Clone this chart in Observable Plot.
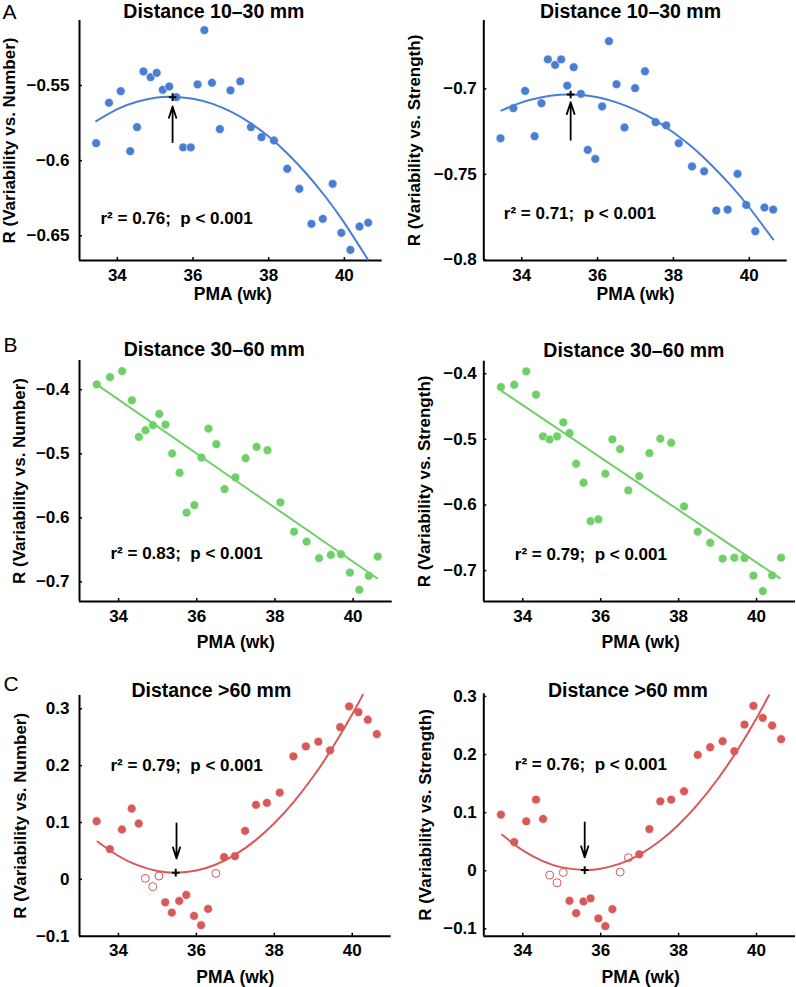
<!DOCTYPE html>
<html><head><meta charset="utf-8">
<script src="https://cdn.jsdelivr.net/npm/d3@7"></script>
<script src="https://cdn.jsdelivr.net/npm/@observablehq/plot@0.6"></script>
<style>
body{margin:0;background:#fff;}
#fig{position:relative;width:796px;height:987px;overflow:hidden;background:#fff;}
#fig svg{position:absolute;overflow:visible;}
</style></head><body><div id="fig"></div>
<script>
// Shared PMA (wk) of each subject
const pma = [33.44, 33.78, 34.09, 34.34, 34.52, 34.69, 34.88, 35.04, 35.2, 35.37, 35.56, 35.74, 35.94, 36.12, 36.3, 36.5, 36.71, 36.99, 37.25, 37.53, 37.81, 38.14, 38.49, 38.81, 39.13, 39.43, 39.69, 39.92, 40.16, 40.4, 40.63];
const xTicks = [34, 36, 38, 40];

// Panel A: distance 10-30 mm
const rA_num = [-0.5884, -0.5615, -0.5538, -0.5937, -0.5777, -0.5407, -0.5445, -0.5416, -0.5529, -0.5507, -0.5578, -0.5912, -0.5912, -0.5493, -0.5132, -0.5482, -0.5790, -0.5533, -0.5473, -0.5777, -0.5844, -0.5866, -0.6054, -0.6187, -0.6420, -0.6387, -0.6154, -0.6480, -0.6593, -0.6438, -0.6413];
const rA_str = [-0.7289, -0.7113, -0.7012, -0.7277, -0.7084, -0.6828, -0.6860, -0.6828, -0.6981, -0.6873, -0.7029, -0.7357, -0.7410, -0.7103, -0.6721, -0.6973, -0.7226, -0.6996, -0.6897, -0.7195, -0.7213, -0.7318, -0.7454, -0.7482, -0.7712, -0.7706, -0.7497, -0.7679, -0.7833, -0.7694, -0.7706];
const fitA_num_x = [33.44, 34, 34.5, 35, 35.43, 36, 36.5, 37, 37.5, 38, 38.5, 39, 39.5, 40, 40.62];
const fitA_num_y = [-0.5737, -0.5657, -0.5610, -0.5582, -0.5575, -0.5588, -0.5621, -0.5674, -0.5747, -0.5840, -0.5954, -0.6087, -0.6240, -0.6414, -0.6657];
const fitA_str_x = [33.46, 34, 34.5, 35, 35.25, 35.5, 36, 36.5, 37, 37.5, 38, 38.5, 39, 39.5, 40, 40.63];
const fitA_str_y = [-0.7127, -0.7079, -0.7050, -0.7035, -0.7033, -0.7035, -0.7049, -0.7079, -0.7123, -0.7181, -0.7255, -0.7342, -0.7445, -0.7562, -0.7694, -0.7881];
const yTicksA_num = [-0.65, -0.6, -0.55];
const yTicksA_str = [-0.8, -0.75, -0.7];

// Panel B: distance 30-60 mm
const rB_num = [-0.3917, -0.3803, -0.3709, -0.4166, -0.4737, -0.4633, -0.4555, -0.4379, -0.4545, -0.4996, -0.5297, -0.5920, -0.5801, -0.5059, -0.4607, -0.4851, -0.5552, -0.5370, -0.5069, -0.4893, -0.4945, -0.5759, -0.6216, -0.6372, -0.6631, -0.6579, -0.6569, -0.6855, -0.7124, -0.6906, -0.6605];
const rB_str = [-0.4203, -0.4168, -0.3964, -0.4320, -0.4955, -0.5001, -0.4955, -0.4742, -0.4904, -0.5372, -0.5661, -0.6245, -0.6220, -0.5524, -0.5001, -0.5148, -0.5778, -0.5560, -0.5209, -0.4991, -0.5052, -0.6022, -0.6408, -0.6576, -0.6819, -0.6804, -0.6809, -0.7078, -0.7312, -0.7073, -0.6804];
const fitB_num_x = [33.51, 40.62];
const fitB_num_y = [-0.3948, -0.6948];
const fitB_str_x = [33.47, 40.60];
const fitB_str_y = [-0.4268, -0.7115];
const yTicksB = [-0.7, -0.6, -0.5, -0.4];

// Panel C: distance > 60 mm
const rC_num = [0.1023, 0.0532, 0.0877, 0.1246, 0.0982, 0.0018, -0.0129, 0.0058, -0.0404, -0.0585, -0.0380, -0.0275, -0.0643, -0.0807, -0.0520, 0.0105, 0.0392, 0.0409, 0.0854, 0.1310, 0.1345, 0.1526, 0.2164, 0.2339, 0.2421, 0.2269, 0.2678, 0.3041, 0.2942, 0.2807, 0.2556];
const rC_str = [0.0966, 0.0494, 0.0851, 0.1224, 0.0891, -0.0075, -0.0207, -0.0029, -0.0517, -0.0730, -0.0529, -0.0477, -0.0822, -0.0954, -0.0661, -0.0023, 0.0224, 0.0282, 0.0718, 0.1195, 0.1224, 0.1368, 0.1994, 0.2126, 0.2230, 0.2057, 0.2517, 0.2839, 0.2632, 0.2500, 0.2264];
const openC_num = [5, 6, 7, 15];
const openC_str = [5, 6, 7, 15, 16];
const fitC_num_x = [33.46, 34, 34.5, 35, 35.47, 36, 36.5, 37, 37.5, 38, 38.5, 39, 39.5, 40, 40.27];
const fitC_num_y = [0.0666, 0.0411, 0.0246, 0.0148, 0.0118, 0.0156, 0.0262, 0.0436, 0.0677, 0.0987, 0.1364, 0.1809, 0.2322, 0.2903, 0.3245];
const fitC_str_x = [33.47, 34, 34.5, 35, 35.59, 36, 36.5, 37, 37.5, 38, 38.5, 39, 39.5, 40, 40.32];
const fitC_str_y = [0.0619, 0.0351, 0.0171, 0.0058, 0.0011, 0.0034, 0.0122, 0.0278, 0.0502, 0.0792, 0.1150, 0.1575, 0.2067, 0.2627, 0.3020];
const yTicksC = [-0.1, 0, 0.1, 0.2, 0.3];

// Extremum markers [x, y] and arrows [x, yFrom, yTo]
const peakA_num = [35.46, -0.5578], arrowA_num = [35.46, -0.5877, -0.5640];
const peakA_str = [35.29, -0.7033], arrowA_str = [35.29, -0.7298, -0.7078];
const peakC_num = [35.47, 0.0118], arrowC_num = [35.49, 0.0982, 0.0368];
const peakC_str = [35.59, 0.0011], arrowC_str = [35.59, 0.0833, 0.0230];

const titles = ["Distance 10\u201330 mm", "Distance 30\u201360 mm", "Distance >60 mm"];
const yLabels = ["R (Variability vs. Number)", "R (Variability vs. Strength)"];
const xLabel = "PMA (wk)";
const stats = ["r\u00b2 = 0.76;\u00a0 p < 0.001", "r\u00b2 = 0.71;\u00a0 p < 0.001", "r\u00b2 = 0.83;\u00a0 p < 0.001", "r\u00b2 = 0.79;\u00a0 p < 0.001", "r\u00b2 = 0.79;\u00a0 p < 0.001", "r\u00b2 = 0.76;\u00a0 p < 0.001"];
const letters = ["A", "B", "C"];

const blue = "#4a7ed4", green = "#6fd068", red = "#d95858";

const panels = [
  {letter: letters[0], title: titles[0], ylabel: yLabels[0], stats: stats[0], r: rA_num, open: [], color: blue, yDomain: [-0.6664, -0.5068], yTicks: yTicksA_num, fx: fitA_num_x, fy: fitA_num_y, peak: peakA_num, arrow: arrowA_num,
   box: {sx: 0, sy: 0, w: 398, h: 310, L: 79, T: 20, R: 381.7, B: 260}, yPad: 10, titleDx: -17, titleDy: -2.5, ylDx: -69.5, xlDy: 39, xlDx: 2, stDx: 21, stDy: 203, ltDx: -77, ltDy: -1.2},
  {title: titles[0], ylabel: yLabels[1], stats: stats[1], r: rA_str, open: [], color: blue, yDomain: [-0.8004, -0.66], yTicks: yTicksA_str, fx: fitA_str_x, fy: fitA_str_y, peak: peakA_str, arrow: arrowA_str,
   box: {sx: 398, sy: 0, w: 398, h: 310, L: 483.3, T: 20, R: 786.7, B: 260}, yPad: 7, titleDx: -5, titleDy: -2.5, ylDx: -68.8, xlDy: 39, xlDx: 0, stDx: 20, stDy: 198.5},
  {letter: letters[1], title: titles[1], ylabel: yLabels[0], stats: stats[2], r: rB_num, open: [], color: green, yDomain: [-0.7307, -0.3544], yTicks: yTicksB, fx: fitB_num_x, fy: fitB_num_y,
   box: {sx: 0, sy: 320, w: 398, h: 335, L: 79, T: 360, R: 391.7, B: 601}, yPad: 10, titleDx: -21.6, titleDy: -5, ylDx: -60, xlDy: 46, xlDx: 0, stDx: 31, stDy: 198, ltDx: -76, ltDy: -8.3},
  {title: titles[1], ylabel: yLabels[1], stats: stats[3], r: rB_str, open: [], color: green, yDomain: [-0.7471, -0.3809], yTicks: yTicksB, fx: fitB_str_x, fy: fitB_str_y,
   box: {sx: 398, sy: 320, w: 398, h: 335, L: 483.3, T: 360.7, R: 795, B: 601}, yPad: 7, titleDx: -5.8, titleDy: -4, ylDx: -59.3, xlDy: 46, xlDx: 1, stDx: 31, stDy: 198.3},
  {letter: letters[2], title: titles[2], ylabel: yLabels[0], stats: stats[4], r: rC_num, open: openC_num, color: red, yDomain: [-0.1, 0.3234], yTicks: yTicksC, fx: fitC_num_x, fy: fitC_num_y, peak: peakC_num, arrow: arrowC_num,
   box: {sx: 0, sy: 655, w: 398, h: 332, L: 79, T: 695, R: 390.7, B: 935.7}, yPad: 10, titleDx: -24, titleDy: 1, ylDx: -59, xlDy: 46.3, xlDx: 0, stDx: 31, stDy: 75.5, ltDx: -76, ltDy: -5},
  {title: titles[2], ylabel: yLabels[1], stats: stats[5], r: rC_str, open: openC_str, color: red, yDomain: [-0.1127, 0.3046], yTicks: yTicksC, fx: fitC_str_x, fy: fitC_str_y, peak: peakC_str, arrow: arrowC_str,
   box: {sx: 398, sy: 655, w: 398, h: 332, L: 483.3, T: 693.3, R: 795, B: 935.7}, yPad: 7, titleDx: -11.8, titleDy: 2.7, ylDx: -58.3, xlDy: 46.3, xlDx: 1, stDx: 31, stDy: 76.2}
];

const fmt = d3.format("~g");
const fig = document.getElementById("fig");
const FONT = "'Liberation Sans', Arial, Helvetica, sans-serif";

for (const p of panels) {
  const b = p.box;
  const W = b.R - b.L, H = b.B - b.T;
  const pts = pma.map((x, i) => ({x, y: p.r[i], open: p.open.includes(i)}));
  const fit = p.fx.map((x, i) => ({x, y: p.fy[i]}));
  const marks = [
    Plot.ruleX([33], {strokeWidth: 2, stroke: "black"}),
    Plot.ruleY([p.yDomain[0]], {strokeWidth: 2, stroke: "black"}),
    Plot.tickX(xTicks, {x: d => d, insetTop: H - 3, strokeWidth: 1.5, stroke: "black"}),
    Plot.tickY(p.yTicks, {y: d => d, insetRight: W - 3, strokeWidth: 1.5, stroke: "black"}),
    Plot.axisX(xTicks, {tickSize: 0, tickPadding: 8, tickFormat: fmt, label: null, fontSize: 17, fontWeight: "bold", fill: "black"}),
    Plot.axisY(p.yTicks, {tickSize: 0, tickPadding: p.yPad, tickFormat: fmt, label: null, fontSize: 17, fontWeight: "bold", fill: "black"}),
    Plot.dot(pts.filter(d => !d.open), {x: "x", y: "y", r: 4.4, fill: p.color, stroke: "white", strokeWidth: 0.6}),
    Plot.dot(pts.filter(d => d.open), {x: "x", y: "y", r: 4, fill: "white", stroke: p.color, strokeWidth: 1}),
    Plot.line(fit, {x: "x", y: "y", stroke: p.color, strokeWidth: 2, curve: "natural"}),
    Plot.text([p.title], {text: d => d, frameAnchor: "top", textAnchor: "middle", lineAnchor: "bottom", dx: p.titleDx, dy: p.titleDy, fontSize: 19.5, fontWeight: "bold", fill: "black"}),
    Plot.text([p.ylabel], {text: d => d, frameAnchor: "left", textAnchor: "middle", lineAnchor: "middle", rotate: -90, dx: p.ylDx, fontSize: 17, fontWeight: "bold", fill: "black"}),
    Plot.text([xLabel], {text: d => d, frameAnchor: "bottom", textAnchor: "middle", lineAnchor: "bottom", dx: p.xlDx, dy: p.xlDy, fontSize: 17.5, fontWeight: "bold", fill: "black"}),
    Plot.text([p.stats], {text: d => d, frameAnchor: "top-left", textAnchor: "start", lineAnchor: "bottom", dx: p.stDx, dy: p.stDy, fontSize: 17, fontWeight: "bold", fill: "black"})
  ];
  if (p.letter) marks.push(Plot.text([p.letter], {text: d => d, frameAnchor: "top-left", textAnchor: "start", lineAnchor: "bottom", dx: p.ltDx, dy: p.ltDy, fontSize: 21, fontWeight: "normal", fill: "black"}));
  if (p.peak) {
    marks.push(Plot.dot([p.peak], {x: d => d[0], y: d => d[1], symbol: "plus", r: 2.6, stroke: "black", strokeWidth: 2}));
    marks.push(Plot.arrow([p.arrow], {x1: d => d[0], y1: d => d[1], x2: d => d[0], y2: d => d[2], stroke: "black", strokeWidth: 1.8, headLength: 11, headAngle: 36}));
  }
  const svg = Plot.plot({
    width: b.w, height: b.h,
    marginLeft: b.L - b.sx, marginTop: b.T - b.sy,
    marginRight: b.sx + b.w - b.R, marginBottom: b.sy + b.h - b.B,
    x: {domain: [33, 41], axis: null},
    y: {domain: p.yDomain, axis: null},
    style: {fontFamily: FONT, fontSize: "16px", fontWeight: "bold", color: "black", background: "transparent", overflow: "visible"},
    marks
  });
  svg.style.left = b.sx + "px";
  svg.style.top = b.sy + "px";
  fig.appendChild(svg);
}
</script></body></html>
